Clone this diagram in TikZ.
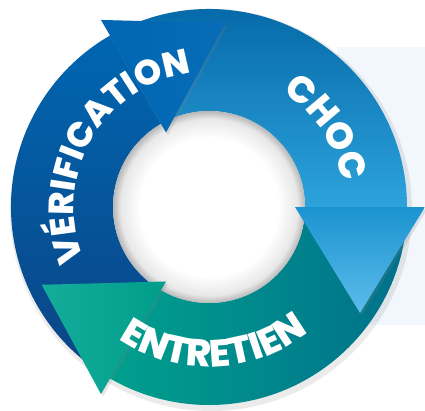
\documentclass[tikz,border=0pt]{standalone}
\usepackage{fontspec}
\IfFontExistsTF{Poppins ExtraBold}
  {\newfontfamily\ringfont{Poppins}[BoldFont={Poppins ExtraBold}]}
  {\newfontfamily\ringfont{Poppins}}
\usetikzlibrary{calc,decorations.text,shadows}

\definecolor{verdark}{HTML}{0B4384}
\definecolor{verlight}{HTML}{0066B1}
\definecolor{verhead}{HTML}{086CB7}
\definecolor{chocdark}{HTML}{0062A2}
\definecolor{choclight}{HTML}{2DA3DC}
\definecolor{chochead}{HTML}{1B93D0}
\definecolor{choctip}{HTML}{5CBCEB}
\definecolor{entleft}{HTML}{00A08D}
\definecolor{entright}{HTML}{00708B}
\definecolor{enthead}{HTML}{00A592}
\definecolor{panel}{HTML}{F1F7FC}

\pgfdeclareradialshading{holeshade}{\pgfpointorigin}{color(0bp)=(white); color(18bp)=(white); color(23bp)=(black!9); color(25bp)=(black!28); color(50bp)=(black!28)}

% ring piece between two angles, clockwise
\newcommand{\ringsector}[2]{(#1:198) arc[start angle=#1, end angle=#2, radius=198] -- (#2:96) arc[start angle=#2, end angle=#1, radius=96] -- cycle}
% triangular head whose base sits on angle #1
\newcommand{\ringhead}[1]{(#1:86) -- ($(#1:151)+(#1-90:106)$) -- (#1:216) -- cycle}

\tikzset{
  headpart/.style={drop shadow={shadow xshift=2pt, shadow yshift=-2.5pt, opacity=0.2}},
  ringtext/.style n args={2}{decorate, decoration={text along path, text align=center, text color=white,
      text={|\ringfont\bfseries\fontsize{#1}{#1}\selectfont|#2}}}
}

\begin{document}
\begin{tikzpicture}[x=1pt,y=1pt]
  \useasboundingbox (-209,-203) rectangle (216,207);
  \fill[panel] (128,160) rectangle (216,-118);
  \fill[black, opacity=0.08] (2,-3) circle (201);

  % ring pieces
  \shade[top color=verlight, bottom color=verdark] \ringsector{240}{120};
  \shade[top color=chocdark, bottom color=choclight] \ringsector{120}{0};
  \shade[left color=entleft, right color=entright] \ringsector{0}{-120};
  \shade[shading=holeshade] (0,0) circle (96);

  % heads
  \shade[headpart, left color=verlight, right color=verhead] \ringhead{120};
  \shade[headpart, top color=chochead, bottom color=choctip] \ringhead{0};
  \shade[headpart, left color=enthead!92!white, right color=enthead!95!black] \ringhead{240};

  % labels
  \path[ringtext={35}{VÉRIFICATION}] (230:135) arc[start angle=230, end angle=70, radius=135];
  \path[ringtext={37}{CHOC}] (95:136) arc[start angle=95, end angle=-27, radius=136];
  \path[ringtext={38}{ENTRETIEN}] (212:160) arc[start angle=212, end angle=332, radius=160];
\end{tikzpicture}
\end{document}
